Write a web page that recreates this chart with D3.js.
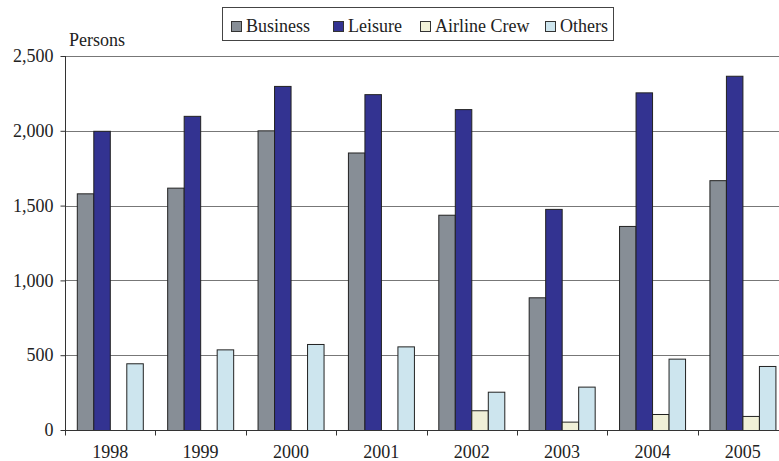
<!DOCTYPE html>
<html><head><meta charset="utf-8">
<script src="https://cdn.jsdelivr.net/npm/d3@7"></script>
<style>body{margin:0;background:#fff}svg{display:block}text{font-family:"Liberation Serif","Times New Roman",serif}</style>
</head><body><svg id="c" width="779" height="461"></svg>
<script>
const years = ["1998","1999","2000","2001","2002","2003","2004","2005"];
const seriesNames = ["Business","Leisure","Airline Crew","Others"];
const business = [1582,1620,2003,1855,1439,887,1364,1670];
const leisure = [2000,2100,2300,2245,2145,1478,2257,2368];
const airlineCrew = [0,0,0,0,132,56,107,94];
const others = [446,539,575,559,256,290,477,428];
const yTicks = [0,500,1000,1500,2000,2500];
const colors = ["#878e96","#333391","#f0f0d8","#cde5ee"];

const seriesVals = [business, leisure, airlineCrew, others];
const svg = d3.select("#c");
const x = d3.scaleBand().domain(years).range([65, 788]).paddingInner(0).paddingOuter(0);
const xs = d3.scaleBand().domain(seriesNames).range([12.3, 78.3]).padding(0);
const y = d3.scaleLinear().domain([0,2500]).range([430,56]);

// gridlines
svg.append("g").selectAll("line").data(yTicks.filter(d=>d>0)).join("line")
  .attr("x1",65).attr("x2",779).attr("y1",d=>Math.round(y(d))+0.5).attr("y2",d=>Math.round(y(d))+0.5)
  .attr("stroke","#777").attr("stroke-width",1);

// bars
const g = svg.append("g");
years.forEach((yr,i)=>{
  seriesNames.forEach((s,j)=>{
    const v = seriesVals[j][i];
    if(v<=0) return;
    g.append("rect")
      .attr("x", x(yr)+xs(s))
      .attr("y", y(v)+0.5)
      .attr("width", xs.bandwidth())
      .attr("height", y(0)-y(v))
      .attr("fill", colors[j]).attr("stroke","#222").attr("stroke-width",1);
  });
});

// y axis
const ya = svg.append("g").attr("transform","translate(65.5,0)")
  .call(d3.axisLeft(y).tickValues(yTicks).tickSize(5).tickPadding(7).tickFormat(d3.format(",")));
ya.select(".domain").attr("stroke","#333").attr("d","M0,"+y(2500)+"V"+y(0));
ya.selectAll(".tick line").attr("stroke","#333");
ya.selectAll("text").attr("font-size","18px").attr("fill","#222").attr("font-family","Liberation Serif");

// x axis
const xa = svg.append("g").attr("transform","translate(0,430.5)");
xa.append("line").attr("x1",65).attr("x2",779).attr("y1",0).attr("y2",0).attr("stroke","#333");
const bounds = years.map(d=>x(d)).concat([x.range()[1]]);
xa.selectAll("line.t").data(bounds).join("line").attr("class","t")
  .attr("x1",d=>Math.round(d)+0.5).attr("x2",d=>Math.round(d)+0.5).attr("y1",0).attr("y2",5).attr("stroke","#333");
xa.selectAll("text").data(years).join("text")
  .attr("x",d=>x(d)+x.bandwidth()/2).attr("y",27).attr("text-anchor","middle")
  .attr("font-size","18px").attr("fill","#222").text(d=>d);

// y label
svg.append("text").attr("x",69).attr("y",46).attr("font-size","18px").attr("fill","#222").text("Persons");

// legend
const lg = svg.append("g");
lg.append("rect").attr("x",222.5).attr("y",7.5).attr("width",391).attr("height",33)
  .attr("fill","#fff").attr("stroke","#444");
const lx = [231, 333, 420, 545];
seriesNames.forEach((s,j)=>{
  lg.append("rect").attr("x",lx[j]+0.5).attr("y",21.5).attr("width",10).attr("height",10)
    .attr("fill",colors[j]).attr("stroke","#333");
  lg.append("text").attr("x",lx[j]+15).attr("y",32).attr("font-size","18px").attr("fill","#222").text(s);
});
</script></body></html>
